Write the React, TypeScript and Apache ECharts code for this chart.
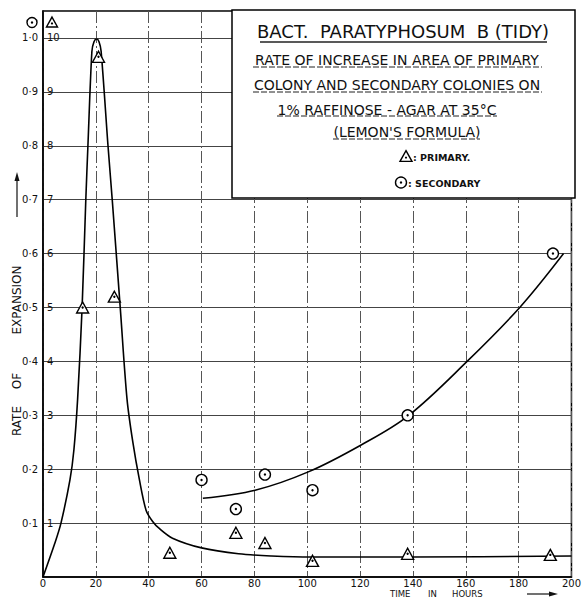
import React, { useEffect, useRef } from "react";
import * as echarts from "echarts";

// Measured points (triangles = primary colony, circles = secondary colonies)
const primaryTimes = [15, 21, 27, 48, 73, 84, 102, 138, 192];
const primaryRates = [0.5, 0.965, 0.52, 0.045, 0.082, 0.063, 0.03, 0.043, 0.041];
const secondaryTimes = [60, 73, 84, 102, 138, 193];
const secondaryRates = [0.18, 0.126, 0.19, 0.161, 0.3, 0.6];

// Hand-drawn fitted curves
const primaryCurveTimes = [0, 4.5, 6.8, 10.2, 11.7, 13.1, 14.8, 16.2, 17.0, 18.5, 19.3, 20.3, 21.2, 22.0, 24.6, 26.2, 29.3, 31.8, 34.0, 36.5, 39.0, 41.5, 44.0, 49, 60, 74, 86.5, 101.5, 140, 200];
const primaryCurveRates = [0, 0.063, 0.1, 0.18, 0.236, 0.33, 0.5, 0.7, 0.8, 0.975, 0.993, 0.998, 0.993, 0.975, 0.8, 0.7, 0.495, 0.33, 0.25, 0.18, 0.124, 0.103, 0.09, 0.072, 0.054, 0.043, 0.039, 0.037, 0.037, 0.039];
const secondaryCurveTimes = [60.5, 80.3, 100.4, 120.4, 138.2, 160.5, 180.6, 197];
const secondaryCurveRates = [0.146, 0.161, 0.195, 0.245, 0.299, 0.4, 0.501, 0.6];

const titleLines = [
  "BACT.  PARATYPHOSUM  B (TIDY)",
  "RATE OF INCREASE IN AREA OF PRIMARY",
  "COLONY AND SECONDARY COLONIES ON",
  "1% RAFFINOSE - AGAR AT 35°C",
  "(LEMON'S FORMULA)",
];
const legendPrimary = ": PRIMARY.";
const legendSecondary = ": SECONDARY";
const yTitleWords = ["RATE", "OF", "EXPANSION"];
const xTitleWords = ["TIME", "IN", "HOURS"];

const FONT = "'DejaVu Sans', 'Liberation Sans', sans-serif";

const zip = (xs: number[], ys: number[]) => xs.map((x, i) => [x, ys[i]]);

const isTenth = (v: number) => v > 0.0001 && v < 1.0001 && Math.abs(v * 10 - Math.round(v * 10)) < 1e-6;

function circleMark(cx: number, cy: number, r: number) {
  return [
    { type: "circle", z: 102, shape: { cx, cy, r }, style: { fill: "#fff", stroke: "#000", lineWidth: 1.4 } },
    { type: "circle", z: 103, shape: { cx, cy, r: 1.2 }, style: { fill: "#000" } },
  ];
}
function triMark(cx: number, cy: number, s: number) {
  const h = s * 0.9;
  return [
    {
      type: "polygon",
      z: 102,
      shape: { points: [[cx, cy - h / 2], [cx + s / 2, cy + h / 2], [cx - s / 2, cy + h / 2]] },
      style: { fill: "#fff", stroke: "#000", lineWidth: 1.4 },
    },
    { type: "circle", z: 103, shape: { cx, cy: cy + h * 0.15, r: 1.1 }, style: { fill: "#000" } },
  ];
}

export default function App() {
  const ref = useRef<HTMLDivElement>(null);
  useEffect(() => {
    if (!ref.current) return;
    const chart = echarts.init(ref.current, null, { renderer: "svg" });
    const titleY = [31, 60, 85, 110, 132];
    const titleX = [403, 397, 397, 387, 407];
    const titleSizes = [18, 14, 14, 14, 14];
    const underlines = [
      [260, 547, 42, 1.6],
      [253, 542, 67, 1],
      [253, 542, 92, 1],
      [277, 497, 116, 1],
      [333, 480, 139, 1],
    ];
    const graphic: any[] = [
      { type: "rect", z: 100, shape: { x: 232, y: 10, width: 343, height: 188 }, style: { fill: "#fff", stroke: "#000", lineWidth: 1.5 } },
      ...titleLines.map((t, i) => ({
        type: "text",
        z: 101,
        x: titleX[i],
        y: titleY[i],
        style: { text: t, fill: "#111", fontSize: titleSizes[i], fontFamily: FONT, textAlign: "center", textVerticalAlign: "middle" },
      })),
      ...underlines.map(([x1, x2, y, w]) => ({
        type: "line",
        z: 101,
        shape: { x1, y1: y, x2, y2: y },
        style: { stroke: "#222", lineWidth: w, lineDash: w > 1.2 ? null : [6, 2] },
      })),
      ...triMark(406, 156, 12),
      {
        type: "text", z: 101, x: 413, y: 157,
        style: { text: legendPrimary, fill: "#111", fontSize: 9.5, fontWeight: "bold", fontFamily: FONT, textAlign: "left", textVerticalAlign: "middle" },
      },
      ...circleMark(401, 182.5, 5.5),
      {
        type: "text", z: 101, x: 408, y: 183,
        style: { text: legendSecondary, fill: "#111", fontSize: 9.5, fontWeight: "bold", fontFamily: FONT, textAlign: "left", textVerticalAlign: "middle" },
      },
      // scale headers above the y axis
      ...circleMark(32, 22.5, 5),
      ...triMark(52, 22, 11),
      // y axis title
      ...yTitleWords.map((w, i) => ({
        type: "text",
        z: 101,
        x: 17,
        y: [421, 381, 300][i],
        rotation: Math.PI / 2,
        style: { text: w, fill: "#111", fontSize: 12, fontFamily: FONT, textAlign: "center", textVerticalAlign: "middle" },
      })),
      { type: "line", z: 101, shape: { x1: 17, y1: 217, x2: 17, y2: 178 }, style: { stroke: "#111", lineWidth: 1.2 } },
      { type: "polygon", z: 101, shape: { points: [[17, 172], [19.5, 181], [14.5, 181]] }, style: { fill: "#111" } },
      // x axis title
      ...xTitleWords.map((w, i) => ({
        type: "text",
        z: 101,
        x: [390, 428, 452][i],
        y: 594,
        style: { text: w, fill: "#111", fontSize: 8.5, lineHeight: 10, fontFamily: FONT, textAlign: "left", textVerticalAlign: "middle" },
      })),
      { type: "line", z: 101, shape: { x1: 527, y1: 594, x2: 550, y2: 594 }, style: { stroke: "#111", lineWidth: 1.2 } },
      { type: "polygon", z: 101, shape: { points: [[558, 594], [549, 591.5], [549, 596.5]] }, style: { fill: "#111" } },
    ];

    const option: any = {
      animation: false,
      backgroundColor: "#fff",
      textStyle: { fontFamily: FONT },
      grid: { left: 43, right: 9, top: 11, bottom: 23, show: true, borderColor: "#000", borderWidth: 1.5, backgroundColor: "transparent" },
      xAxis: {
        type: "value",
        min: 0,
        max: 200,
        interval: 20,
        axisLine: { show: true, lineStyle: { color: "#000", width: 1.5 } },
        axisTick: { show: false },
        axisLabel: { color: "#111", fontSize: 10, fontFamily: FONT, margin: 1, lineHeight: 10 },
        splitLine: { show: true, lineStyle: { color: "#555", width: 1, type: [12, 3, 2, 3] } },
      },
      yAxis: [
        {
          type: "value",
          min: 0,
          max: 1.05,
          interval: 0.1,
          axisLine: { show: true, lineStyle: { color: "#000", width: 1.5 } },
          axisTick: { show: false },
          axisLabel: {
            color: "#111",
            fontSize: 10,
            fontFamily: FONT,
            margin: 5,
            formatter: (v: number) => (isTenth(v) ? v.toFixed(1).replace(".", "·") : ""),
          },
          splitLine: { show: true, lineStyle: { color: "#444", width: 1 } },
        },
        {
          type: "value",
          position: "left",
          min: 0,
          max: 1.05,
          interval: 0.1,
          axisLine: { show: false },
          axisTick: { show: false },
          splitLine: { show: false },
          axisLabel: {
            inside: true,
            color: "#111",
            fontSize: 10,
            fontFamily: FONT,
            margin: 4,
            formatter: (v: number) => (isTenth(v) ? String(Math.round(v * 10)) : ""),
          },
        },
      ],
      series: [
        {
          type: "line",
          data: zip(primaryCurveTimes, primaryCurveRates),
          smooth: 0.3,
          showSymbol: false,
          lineStyle: { color: "#000", width: 1.6 },
          z: 3,
        },
        {
          type: "line",
          data: zip(secondaryCurveTimes, secondaryCurveRates),
          smooth: 0.35,
          showSymbol: false,
          lineStyle: { color: "#000", width: 1.6 },
          z: 3,
        },
        {
          type: "scatter",
          data: zip(primaryTimes, primaryRates),
          symbol: "triangle",
          symbolSize: [12, 11],
          itemStyle: { color: "#fff", borderColor: "#000", borderWidth: 1.4, opacity: 1 },
          z: 4,
        },
        {
          type: "scatter",
          data: zip(secondaryTimes, secondaryRates),
          symbol: "circle",
          symbolSize: 11,
          itemStyle: { color: "#fff", borderColor: "#000", borderWidth: 1.4, opacity: 1 },
          z: 4,
        },
        {
          type: "scatter",
          data: zip(primaryTimes, primaryRates).concat(zip(secondaryTimes, secondaryRates)),
          symbol: "circle",
          symbolSize: 2.4,
          itemStyle: { color: "#000", opacity: 1 },
          z: 5,
        },
      ],
      graphic,
    };
    chart.setOption(option);
    return () => chart.dispose();
  }, []);
  return <div ref={ref} style={{ position: "fixed", left: 0, top: 0, width: 584, height: 600 }} />;
}
